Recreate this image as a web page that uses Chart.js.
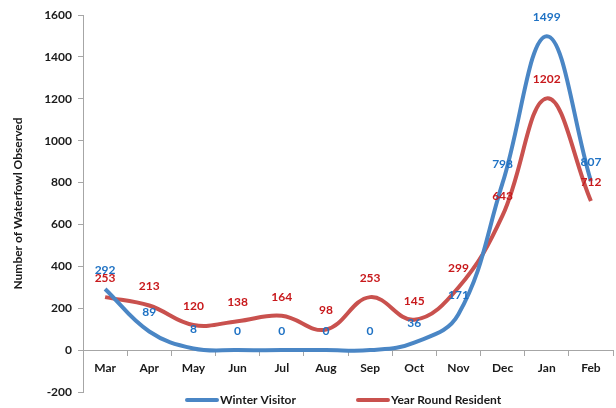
<!DOCTYPE html>
<html>
<head>
<meta charset="utf-8">
<script src="https://cdn.jsdelivr.net/npm/chart.js@4.4.1/dist/chart.umd.min.js"></script>
<style>
  html, body { margin: 0; padding: 0; background: #fff; }
  #wrap { width: 616px; height: 408px; }
</style>
</head>
<body>
<div id="wrap"><canvas id="waterfowlChart"></canvas></div>
<script>
// data
const months = ['Mar', 'Apr', 'May', 'Jun', 'Jul', 'Aug', 'Sep', 'Oct', 'Nov', 'Dec', 'Jan', 'Feb'];
const winterVisitor = [292, 89, 8, 0, 0, 0, 0, 36, 171, 798, 1499, 807];
const yearRoundResident = [253, 213, 120, 138, 164, 98, 253, 145, 299, 643, 1202, 712];
const yTicks = [-200, 0, 200, 400, 600, 800, 1000, 1200, 1400, 1600];

const FONT = "Lato, 'Open Sans', sans-serif";

// value labels drawn above every point
const pointLabels = {
    id: 'pointLabels',
    afterDatasetsDraw(chart) {
        const ctx = chart.ctx;
        ctx.save();
        ctx.font = 'bold 12px ' + FONT;
        ctx.textAlign = 'center';
        ctx.textBaseline = 'middle';
        chart.data.datasets.forEach((ds, i) => {
            const meta = chart.getDatasetMeta(i);
            ctx.fillStyle = ds.labelColor;
            meta.data.forEach((pt, j) => {
                ctx.fillText(String(ds.data[j]), pt.x, pt.y - 19);
            });
        });
        ctx.restore();
    }
};

// legend under the plot, line sample + text
const bottomLegend = {
    id: 'bottomLegend',
    afterDraw(chart) {
        const ctx = chart.ctx;
        ctx.save();
        ctx.font = 'bold 12px ' + FONT;
        ctx.textBaseline = 'middle';
        let x = 187;
        const y = 400;
        chart.data.datasets.forEach(ds => {
            ctx.strokeStyle = ds.borderColor;
            ctx.lineWidth = 4;
            ctx.lineCap = 'round';
            ctx.beginPath();
            ctx.moveTo(x, y);
            ctx.lineTo(x + 30, y);
            ctx.stroke();
            ctx.fillStyle = '#1a1a1a';
            ctx.fillText(ds.label, x + 33, y);
            x += 33 + ctx.measureText(ds.label).width + 62;
        });
        ctx.restore();
    }
};

const ctx = document.getElementById('waterfowlChart').getContext('2d');
const waterfowlChart = new Chart(ctx, {
    type: 'line',
    data: {
        labels: months,
        datasets: [
            {
                label: 'Winter Visitor',
                data: winterVisitor,
                borderColor: '#4a86c5',
                backgroundColor: '#4a86c5',
                labelColor: '#1f72c4',
                borderWidth: 4,
                pointRadius: 0,
                tension: 0.4
            },
            {
                label: 'Year Round Resident',
                data: yearRoundResident,
                borderColor: '#c9514e',
                backgroundColor: '#c9514e',
                labelColor: '#c8191c',
                borderWidth: 4,
                pointRadius: 0,
                tension: 0.4
            }
        ]
    },
    options: {
        responsive: true,
        maintainAspectRatio: false,
        animation: false,
        layout: { padding: { top: 15, right: 3, bottom: 16, left: 0 } },
        plugins: {
            legend: { display: false },
            tooltip: { enabled: false }
        },
        scales: {
            x: {
                position: { y: 0 },
                offset: true,
                grid: { drawOnChartArea: false, drawTicks: true, tickLength: 5, color: '#a6a6a6', offset: true },
                border: { color: '#a6a6a6', width: 1 },
                ticks: { color: '#1a1a1a', font: { family: FONT, size: 12, weight: 'bold' }, padding: 6, maxRotation: 0 }
            },
            y: {
                min: yTicks[0],
                max: yTicks[yTicks.length - 1],
                afterBuildTicks(scale) {
                    scale.ticks = yTicks.map(v => ({ value: v }));
                },
                afterFit(scale) {
                    scale.width = 83;
                },
                grid: { drawOnChartArea: false, drawTicks: true, tickLength: 5, color: '#a6a6a6' },
                border: { color: '#a6a6a6', width: 1 },
                ticks: {
                    color: '#1a1a1a',
                    font: { family: FONT, size: 12, weight: 'bold' },
                    padding: 6,
                    callback: value => String(value)
                },
                title: {
                    display: true,
                    text: 'Number of Waterfowl Observed',
                    color: '#1a1a1a',
                    font: { family: FONT, size: 12, weight: 'bold' },
                    padding: { top: 11, bottom: 0 }
                }
            }
        }
    },
    plugins: [pointLabels, bottomLegend]
});
</script>
</body>
</html>
